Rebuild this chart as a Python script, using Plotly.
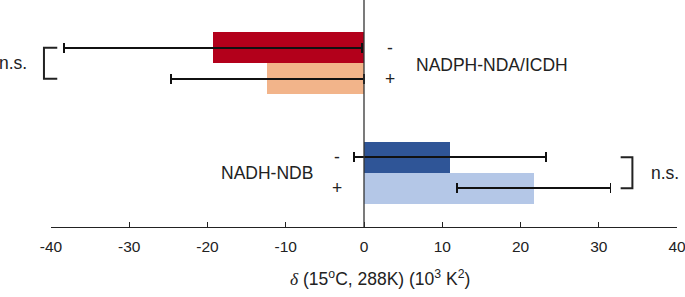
import plotly.graph_objects as go

# ---- data ----
groups = ["NADPH-NDA/ICDH", "NADH-NDB"]
treatments = ["-", "+"]
delta_nadph = [-19.3, -12.35]     # (-, +)
err_nadph = [19.05, 12.35]
delta_nadh = [11.0, 21.7]
err_nadh = [12.3, 9.8]
x_ticks = [-40, -30, -20, -10, 0, 10, 20, 30, 40]
significance = ["n.s.", "n.s."]

# ---- layout helpers ----
GROUP_GAP = 3.53
colors = [["#B3001B", "#F2B48A"], ["#2F5597", "#B4C7E7"]]
values = [delta_nadph, delta_nadh]
errors = [err_nadph, err_nadh]

ys, xs, es, cs = [], [], [], []
for g in range(len(groups)):
    for t in range(len(treatments)):
        ys.append(g * GROUP_GAP + t)
        xs.append(values[g][t])
        es.append(errors[g][t])
        cs.append(colors[g][t])

FONT = "Liberation Sans"

fig = go.Figure()
fig.add_trace(go.Bar(
    x=xs, y=ys, orientation="h", width=1.0,
    marker=dict(color=cs, line=dict(width=0)),
    error_x=dict(type="data", array=es, symmetric=True,
                 color="#111111", thickness=1.8, width=5),
    showlegend=False, hoverinfo="x",
))

def xp(v):  # data x -> paper x
    return (v + 40) / 80.0

shapes = []
# zero line
shapes.append(dict(type="line", xref="x", yref="paper", x0=0, x1=0, y0=0, y1=1,
                   line=dict(color="#333333", width=1.3)))
# left bracket (NADPH group)
y0, y1 = 0, 1
bx, arm = -40.9, -39.2
shapes.append(dict(type="path", xref="paper", yref="y",
                   path=f"M {xp(arm)} {y0} L {xp(bx)} {y0} L {xp(bx)} {y1} L {xp(arm)} {y1}",
                   line=dict(color="#222222", width=2)))
# right bracket (NADH group)
y0, y1 = GROUP_GAP, GROUP_GAP + 1
bx, arm = 34.3, 32.8
shapes.append(dict(type="path", xref="x", yref="y",
                   path=f"M {arm} {y0} L {bx} {y0} L {bx} {y1} L {arm} {y1}",
                   line=dict(color="#222222", width=2)))

ann = []
tf = dict(family=FONT, size=17.5, color="#222222")
# +/- labels
for g, xpos in [(0, 3.3), (1, -3.5)]:
    for t, lab in enumerate(treatments):
        ann.append(dict(x=xpos, y=g * GROUP_GAP + t, xref="x", yref="y", text=lab,
                        showarrow=False, font=tf, xanchor="center", yanchor="middle"))
# group labels
ann.append(dict(x=6.4, y=0.55, xref="x", yref="y", text=groups[0], showarrow=False,
                font=tf, xanchor="left", yanchor="middle"))
ann.append(dict(x=-6.3, y=GROUP_GAP + 0.5, xref="x", yref="y", text=groups[1], showarrow=False,
                font=tf, xanchor="right", yanchor="middle"))
# significance labels
ann.append(dict(x=(29 - 51) / 626, y=0.5, xref="paper", yref="y", text=significance[0],
                showarrow=False, font=tf, xanchor="right", yanchor="middle"))
ann.append(dict(x=36.4, y=GROUP_GAP + 0.5, xref="x", yref="y", text=significance[1],
                showarrow=False, font=tf, xanchor="left", yanchor="middle"))
# axis title
ann.append(dict(x=2.0, y=-0.225, xref="x", yref="paper",
                text="<span style=\"font-family:'Liberation Serif', serif\"><i>δ</i></span> (15<sup>o</sup>C, 288K) (10<sup>3</sup> K<sup>2</sup>)",
                showarrow=False, font=dict(family=FONT, size=17.5, color="#222222"),
                xanchor="center", yanchor="middle"))

fig.update_layout(
    width=685, height=297,
    margin=dict(l=51, r=8, t=0, b=70),
    paper_bgcolor="white", plot_bgcolor="white",
    shapes=shapes, annotations=ann,
    xaxis=dict(range=[-40, 40], tickvals=x_ticks, ticktext=[str(v) for v in x_ticks],
               showgrid=False, zeroline=False, showline=True, linecolor="#222222", linewidth=1.3,
               ticks="inside", ticklen=5, tickwidth=1.3, tickcolor="#222222",
               ticklabeloverflow="allow", ticklabelstandoff=5,
               tickfont=dict(family=FONT, size=15.5, color="#222222"), fixedrange=True),
    yaxis=dict(range=[5.781, -1.542], showgrid=False, zeroline=False, showline=False,
               showticklabels=False, ticks="", fixedrange=True),
    bargap=0,
)

fig.write_html("out.html", config={"displayModeBar": False},
               post_script="document.body.style.margin='0';document.body.style.overflow='hidden';")
